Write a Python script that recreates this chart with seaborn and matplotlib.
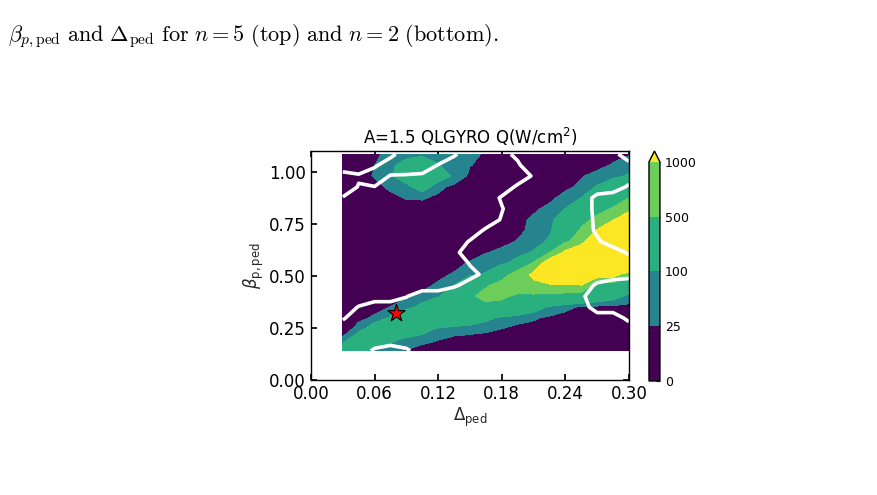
import numpy as np
import matplotlib
import matplotlib.pyplot as plt
import seaborn as sns

matplotlib.use("Agg")

# grid of the scan (pedestal width, pedestal poloidal beta)
delta_ped = [0.03, 0.045, 0.06, 0.075, 0.09, 0.105, 0.12, 0.135, 0.15, 0.165,
             0.18, 0.195, 0.21, 0.225, 0.24, 0.255, 0.27, 0.285, 0.30]
beta_ped = [0.14, 0.1925, 0.245, 0.2975, 0.35, 0.4025, 0.455, 0.5075, 0.56, 0.6125,
            0.665, 0.7175, 0.77, 0.8225, 0.875, 0.9275, 0.98, 1.0325, 1.085]

# QLGYRO heat flux Q (W/cm^2), one row per beta value (bottom to top)
q_flux = [
    [250, 150, 60, 40, 20, 5, 5, 5, 5, 5, 5, 5, 5, 5, 5, 5, 5, 5, 5],
    [35, 250, 300, 130, 60, 40, 26, 8, 5, 5, 5, 5, 5, 5, 5, 5, 5, 5, 5],
    [1, 42, 200, 300, 250, 160, 80, 55, 45, 35, 24, 5, 5, 5, 5, 5, 5, 5, 5],
    [5, 15, 32, 117, 250, 300, 300, 250, 200, 130, 75, 50, 32, 12, 5, 5, 5, 5, 5],
    [5, 5, 12, 26, 60, 146, 250, 350, 400, 350, 300, 250, 160, 80, 40, 15, 5, 5, 5],
    [5, 5, 5, 8, 18, 33, 90, 165, 420, 650, 600, 400, 400, 350, 300, 250, 200, 150, 70],
    [5, 5, 5, 5, 8, 15, 31, 105, 300, 450, 650, 800, 900, 950, 970, 990, 275, 250, 200],
    [5, 5, 5, 5, 5, 5, 15, 29, 70, 111, 300, 728, 1100, 1400, 1500, 1400, 1300, 1300, 550],
    [5, 5, 5, 5, 5, 5, 5, 12, 30, 55, 85, 133, 563, 1400, 1700, 1800, 1800, 1800, 3000],
    [5, 5, 5, 5, 5, 5, 5, 5, 5, 22, 37, 75, 109, 490, 1130, 1800, 2000, 2000, 2500],
    [5, 5, 5, 5, 5, 5, 5, 5, 5, 5, 12, 28, 70, 111, 450, 700, 2200, 2500, 2200],
    [5, 5, 5, 5, 5, 5, 5, 5, 5, 5, 5, 15, 37, 90, 165, 551, 1050, 1500, 1500],
    [5, 5, 5, 5, 5, 5, 5, 5, 5, 5, 5, 10, 35, 85, 141, 400, 576, 980, 1280],
    [5, 5, 5, 5, 5, 5, 5, 5, 5, 5, 5, 5, 15, 40, 102, 250, 400, 530, 900],
    [3, 3, 3, 12, 28, 30, 15, 5, 5, 5, 5, 5, 5, 10, 48, 102, 200, 300, 495],
    [3, 3, 10, 35, 70, 160, 40, 8, 5, 5, 5, 5, 5, 5, 10, 40, 110, 200, 250],
    [3, 10, 28, 90, 165, 240, 170, 80, 10, 5, 5, 5, 5, 5, 5, 20, 45, 70, 115],
    [3, 5, 24, 80, 140, 180, 105, 60, 28, 5, 5, 5, 5, 5, 5, 5, 5, 31, 60],
    [3, 5, 15, 40, 70, 80, 65, 50, 35, 20, 5, 5, 5, 5, 5, 5, 5, 5, 20],
]

# stability margin, the white curve is its zero level
margin = [
    [1, 1, -0.3, -1, -0.3, 1, 1, 1, 1, 1, 1, 1, 1, 1, 1, 1, 1, 1, 1],
    [1, 1, 1, 1, 1, 1, 1, 1, 1, 1, 1, 1, 1, 1, 1, 1, 1, 1, 1],
    [1, 1, 1, 1, 1, 1, 1, 1, 1, 1, 1, 1, 1, 1, 1, 1, 1, 1, 1],
    [-0.2, 1, 1, 1, 1, 1, 1, 1, 1, 1, 1, 1, 1, 1, 1, 1, 1, 1, -0.5],
    [-1, 0.1, 1, 1, 1, 1, 1, 1, 1, 1, 1, 1, 1, 1, 1, 1, -1, -1, -1],
    [-1, -1, -1, -1, -0.1, 1, 1, 1, 1, 1, 1, 1, 1, 1, 1, 0.3, -1, -1, -1],
    [-1, -1, -1, -1, -1, -1, -1, -0.2, 0.5, 1, 1, 1, 1, 1, 1, 1, -0.3, -1, -1],
    [-1, -1, -1, -1, -1, -1, -1, -1, -0.4, 0.3, 1, 1, 1, 1, 1, 1, 1, 1, 0.6],
    [-1, -1, -1, -1, -1, -1, -1, -1, 0.1, 1, 1, 1, 1, 1, 1, 1, 1, 1, 1],
    [-1, -1, -1, -1, -1, -1, -1, -0.5, 1, 1, 1, 1, 1, 1, 1, 1, 1, 1, -0.3],
    [-1, -1, -1, -1, -1, -1, -1, -1, 0.15, 1, 1, 1, 1, 1, 1, 1, 0.3, -1, -1],
    [-1, -1, -1, -1, -1, -1, -1, -1, -1, 0.3, 1, 1, 1, 1, 1, 1, -0.3, -1, -1],
    [-1, -1, -1, -1, -1, -1, -1, -1, -1, -1, 0.15, 1, 1, 1, 1, 1, -0.4, -1, -1],
    [-1, -1, -1, -1, -1, -1, -1, -1, -1, -1, -0.1, 1, 1, 1, 1, 1, -0.5, -1, -1],
    [-0.1, -1, -1, -1, -1, -1, -1, -1, -1, -1, 0.2, 1, 1, 1, 1, 1, -0.5, -1, -1],
    [1, -0.1, -0.05, -1, -1, -1, -1, -1, -1, -1, -1, 0.3, 1, 1, 1, 1, 1, 1, -0.3],
    [1, 0.2, 1, -0.1, -0.15, -0.3, -1, -1, -1, -1, -1, -1, 0.2, 1, 1, 1, 1, 1, 1],
    [-1.6, -1, -0.3, 1, 1, 1, -0.05, -1, -1, -1, -1, -0.2, 1, 1, 1, 1, 1, 1, 1],
    [-1, -1, -1, -0.5, 1, 1, 1, 0.25, -1, -1, -0.4, 0.3, 1, 1, 1, 1, 1, 1, -2],
]

q_levels = [0, 25, 100, 500, 1000]
q_tick_labels = ["0", "25", "100", "500", "1000"]
band_colors = ["#440154", "#25848e", "#2ab07f", "#6ccd5a", "#fde725"]

# experimental operating point
star_delta = [0.08]
star_beta = [0.322]

x_ticks = [0.00, 0.06, 0.12, 0.18, 0.24, 0.30]
y_ticks = [0.00, 0.25, 0.50, 0.75, 1.00]

caption = (r"$\beta_{p,\mathrm{ped}}\ \mathrm{and}\ \Delta_{\mathrm{ped}}\ \mathrm{for}\ "
           r"n = 5\ \mathrm{(top)\ and}\ n = 2\ \mathrm{(bottom).}$")

sns.set_theme(style="ticks")
plt.rcParams.update({
    "font.family": ["DejaVu Sans"],
    "axes.edgecolor": "black",
    "axes.linewidth": 1.0,
    "xtick.direction": "in",
    "ytick.direction": "in",
    "xtick.top": True,
    "ytick.right": True,
    "xtick.color": "black",
    "ytick.color": "black",
    "xtick.major.size": 4,
    "ytick.major.size": 4,
    "text.color": "black",
})

fig = plt.figure(figsize=(8.77, 4.95), dpi=100)
ax = fig.add_axes([0.3546, 0.2323, 0.3626, 0.4626])
cax = fig.add_axes([0.7400, 0.2303, 0.0125, 0.4646])

D, B = np.meshgrid(delta_ped, beta_ped)
Q = np.array(q_flux, dtype=float)
M = np.array(margin, dtype=float)

cs = ax.contourf(D, B, Q, levels=q_levels, colors=band_colors, extend="max")
ax.contour(D, B, M, levels=[0], colors="white", linewidths=2.6)
sns.scatterplot(x=star_delta, y=star_beta, marker="*", s=170, color="red",
                edgecolor="black", linewidth=0.8, ax=ax, zorder=5, legend=False)

ax.set_xlim(0, 0.30)
ax.set_ylim(0, 1.10)
ax.set_xticks(x_ticks)
ax.set_yticks(y_ticks)
ax.set_xticklabels([f"{t:.2f}" for t in x_ticks], fontsize=12)
ax.set_yticklabels([f"{t:.2f}" for t in y_ticks], fontsize=12)
ax.set_xlabel(r"$\Delta_{\rm ped}$", fontsize=12, labelpad=2)
ax.set_ylabel(r"$\beta_{\rm p,ped}$", fontsize=12, labelpad=2)
ax.set_title(r"A=1.5 QLGYRO Q(W/cm$^2$)", fontsize=12, pad=5)

cb = fig.colorbar(cs, cax=cax, ticks=q_levels)
cb.ax.set_yticklabels(q_tick_labels, fontsize=9)
cb.ax.tick_params(direction="in", length=3, width=0.8)
cb.outline.set_edgecolor("black")

fig.text(8 / 877, 1 - 41 / 495, caption, fontsize=16, ha="left", va="baseline",
         math_fontfamily="cm")

fig.savefig("out.png", dpi=100, facecolor="white")
